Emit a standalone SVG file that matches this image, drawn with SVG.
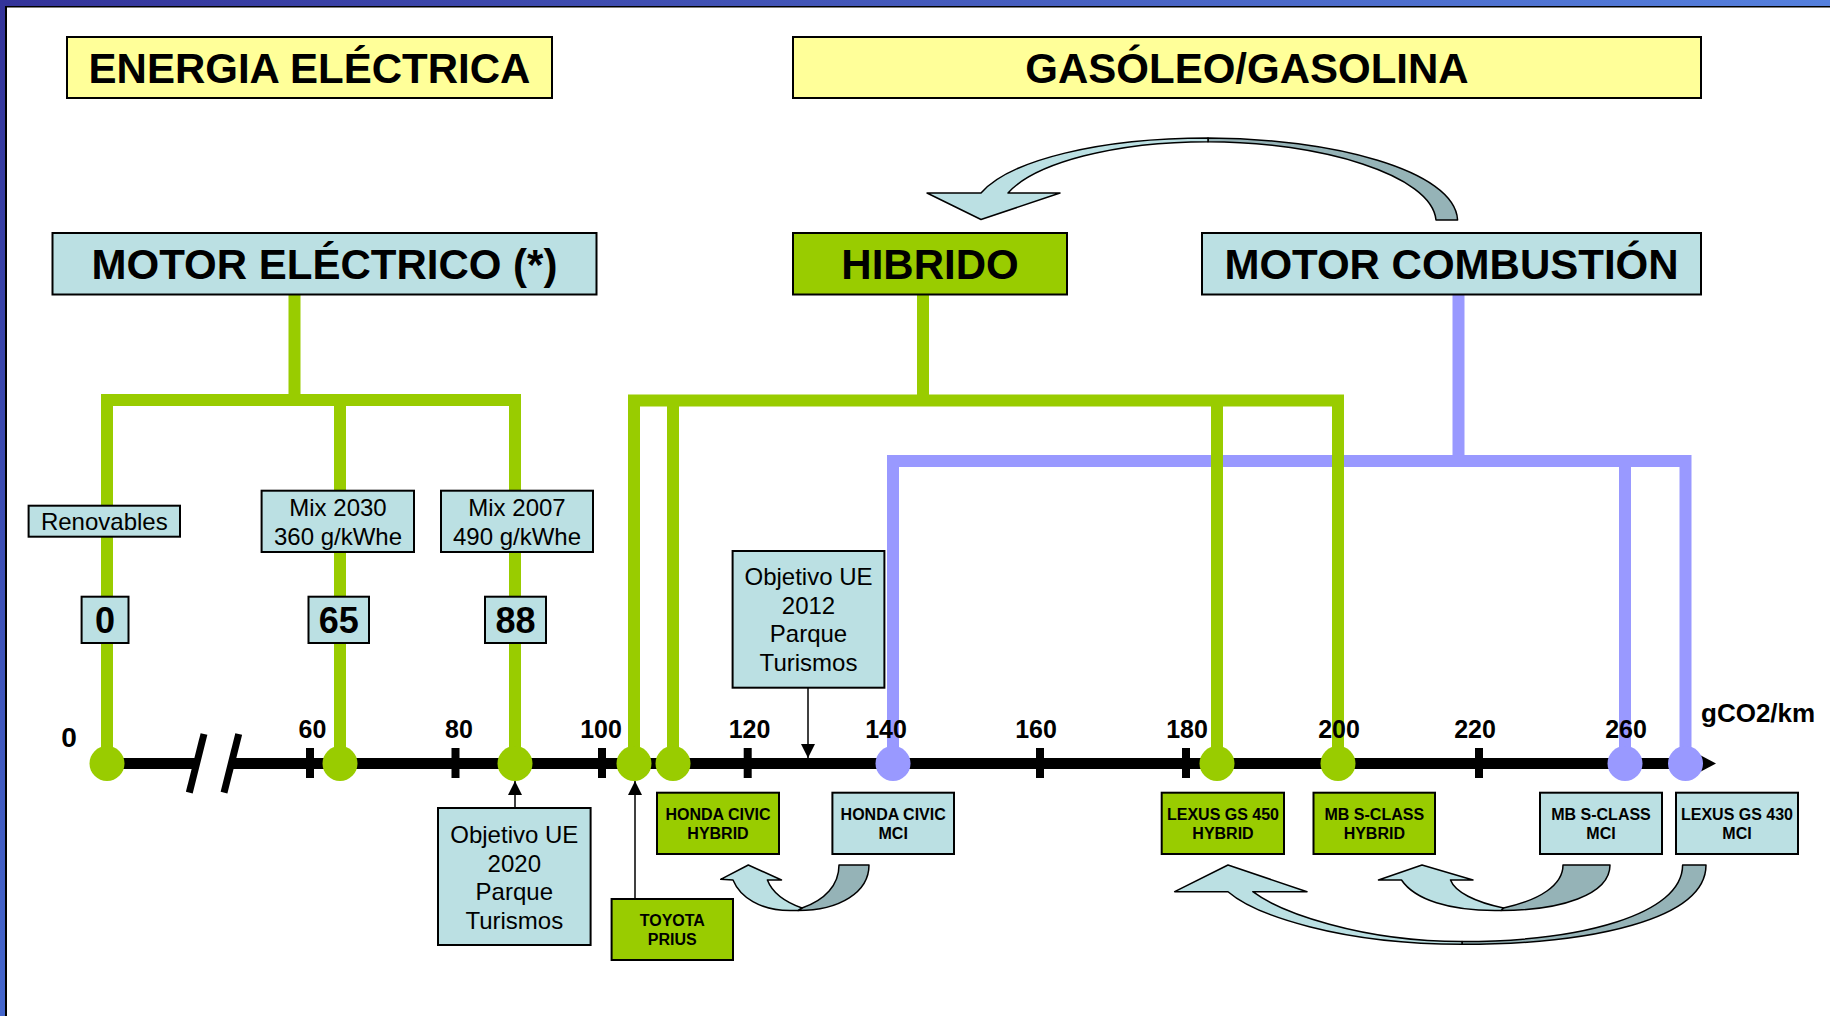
<svg xmlns="http://www.w3.org/2000/svg" width="1830" height="1016" viewBox="0 0 1830 1016">
<defs>
<linearGradient id="gTop" x1="0" y1="0" x2="1" y2="0"><stop offset="0" stop-color="#333399"/><stop offset="1" stop-color="#5580DD"/></linearGradient>
<linearGradient id="gLeft" x1="0" y1="0" x2="0" y2="1"><stop offset="0" stop-color="#333399"/><stop offset="1" stop-color="#4466CC"/></linearGradient>
<marker id="ah" viewBox="0 0 10 10" refX="10" refY="5" markerWidth="14" markerHeight="14" markerUnits="userSpaceOnUse" orient="auto"><path d="M0,0 L10,5 L0,10 Z" fill="#000"/></marker>
</defs>
<style>
.title{font-family:"Liberation Sans",Arial,sans-serif;font-weight:bold;font-size:42px;text-anchor:middle;fill:#000}
.yel{fill:#FFFF99;stroke:#000;stroke-width:2}
.cyan{fill:#BBE0E3;stroke:#000;stroke-width:2}
.grn{fill:#99CC00;stroke:#000;stroke-width:2}
.lbl{font-family:"Liberation Sans",Arial,sans-serif;font-size:24px;text-anchor:middle;fill:#000}
.val{font-family:"Liberation Sans",Arial,sans-serif;font-weight:bold;font-size:36px;text-anchor:middle;fill:#000}
.car{font-family:"Liberation Sans",Arial,sans-serif;font-weight:bold;font-size:16px;text-anchor:middle;fill:#000}
.ax{font-family:"Liberation Sans",Arial,sans-serif;font-weight:bold;font-size:25px;text-anchor:middle;fill:#000}
.gl{fill:none;stroke:#99CC00;stroke-width:12}
.pl{fill:none;stroke:#9999FF;stroke-width:12}
.cg{fill:#99CC00}
.cp{fill:#9999FF}
.tick{fill:#000}
.thin{stroke:#000;stroke-width:1.5;fill:none}
.arL{fill:#BBE0E3;stroke:#000;stroke-width:1.5;stroke-linejoin:round}
.arD{fill:#95B3B7;stroke:#000;stroke-width:1.5;stroke-linejoin:round}
</style>
<rect x="0" y="0" width="1830" height="1016" fill="#fff"/>
<rect x="0" y="0" width="1830" height="6" fill="url(#gTop)"/>
<rect x="0" y="0" width="5" height="1016" fill="url(#gLeft)"/>
<rect x="5" y="6" width="1825" height="1.5" fill="#000"/>
<rect x="5" y="6" width="2" height="1010" fill="#000"/>

<g id="connectors">
<path class="pl" d="M893,763 V461 H1685.5 V763"/>
<path class="pl" d="M1625,461 V763"/>
<path class="pl" d="M1458.5,295 V461"/>
<path class="gl" d="M107,763 V400 H515 V763"/>
<path class="gl" d="M340,400 V763"/>
<path class="gl" d="M294.5,295 V400"/>
<path class="gl" d="M634,763 V400.5 H1338 V763"/>
<path class="gl" d="M673,400.5 V763"/>
<path class="gl" d="M1217,400.5 V763"/>
<path class="gl" d="M923,295 V400.5"/>
<line class="thin" x1="515" y1="808" x2="515" y2="781" marker-end="url(#ah)"/>
<line class="thin" x1="635" y1="899" x2="635" y2="781" marker-end="url(#ah)"/>
<line class="thin" x1="808" y1="688" x2="808" y2="758" marker-end="url(#ah)"/>
<path class="arD" d="M1208,138 C1330,138 1455,170 1457.6,220 L1436,220 C1432,175 1320,141.7 1208,141.7 Z"/>
<path class="arL" d="M1208,141.7 C1115,141.7 1035,163 1008,193 L1060,193 L981,219.5 L927,193 L981,193 C1010,160 1100,138 1208,138 Z"/>
<path class="arD" d="M869,865 C869,892 840,910.5 798,910.5 L802,908 C825,900 839,885 839,865 Z"/>
<path class="arL" d="M802,908 C785,902 772,892 767.4,880 L781.5,880 L748.3,865 L720.7,879.3 L733,880 C740,897 760,910.5 790,910.5 L798,910.5 Z"/>
<path class="arD" d="M1610,865 C1610,895 1560,910.5 1501,910.5 L1503.5,908 C1540,900 1563,885 1563,865 Z"/>
<path class="arL" d="M1503.5,908 C1475,902 1455,892 1450.5,880 L1473,880 L1422,865 L1378.5,880 L1401.5,880 C1415,900 1450,910.5 1495,910.5 L1501,910.5 Z"/>
<path class="arD" d="M1706,865 C1706,920 1590,944.3 1462,944.3 L1462,941.5 C1580,941.5 1682.6,915 1682.6,865 Z"/>
<path class="arL" d="M1462,941.5 C1360,941.5 1280,912 1252.8,891.7 L1307,891.7 L1228,865 L1174.7,891.7 L1228,891.7 C1255,915 1340,944.3 1462,944.3 Z"/>
</g>

<g id="axis">
<line x1="107" y1="763.5" x2="196" y2="763.5" stroke="#000" stroke-width="11"/>
<line x1="231" y1="763.5" x2="1702" y2="763.5" stroke="#000" stroke-width="11"/>
<path d="M1700,755 L1716,763.5 L1700,772 Z" fill="#000"/>
<line x1="189.3" y1="792.7" x2="204" y2="734" stroke="#000" stroke-width="7"/>
<line x1="224" y1="792.7" x2="238.7" y2="734" stroke="#000" stroke-width="7"/>
<rect class="tick" x="306" y="748" width="8" height="30"/>
<rect class="tick" x="451.5" y="748" width="8" height="30"/>
<rect class="tick" x="598" y="748" width="8" height="30"/>
<rect class="tick" x="743.7" y="748" width="8" height="30"/>
<rect class="tick" x="1036" y="748" width="8" height="30"/>
<rect class="tick" x="1182" y="748" width="8" height="30"/>
<rect class="tick" x="1475" y="748" width="8" height="30"/>
<text x="69" y="747" font-family="Liberation Sans, Arial, sans-serif" font-weight="bold" font-size="28" text-anchor="middle">0</text>
<text class="ax" x="312.5" y="738">60</text>
<text class="ax" x="459" y="738">80</text>
<text class="ax" x="601" y="738">100</text>
<text class="ax" x="749.5" y="738">120</text>
<text class="ax" x="886" y="738">140</text>
<text class="ax" x="1036" y="738">160</text>
<text class="ax" x="1187" y="738">180</text>
<text class="ax" x="1339" y="738">200</text>
<text class="ax" x="1475" y="738">220</text>
<text class="ax" x="1626" y="738">260</text>
<text x="1701" y="722" font-family="Liberation Sans, Arial, sans-serif" font-weight="bold" font-size="26">gCO2/km</text>
<circle class="cg" cx="107" cy="763.5" r="17.5"/>
<circle class="cg" cx="340" cy="763.5" r="17.5"/>
<circle class="cg" cx="515" cy="763.5" r="17.5"/>
<circle class="cg" cx="634" cy="763.5" r="17.5"/>
<circle class="cg" cx="673" cy="763.5" r="17.5"/>
<circle class="cp" cx="893" cy="763.5" r="17.5"/>
<circle class="cg" cx="1217" cy="763.5" r="17.5"/>
<circle class="cg" cx="1338" cy="763.5" r="17.5"/>
<circle class="cp" cx="1625" cy="763.5" r="17.5"/>
<circle class="cp" cx="1685.5" cy="763.5" r="17.5"/>
</g>

<g id="energia-electrica"><rect class="yel" x="67" y="37" width="485" height="61"/><text class="title" x="309.5" y="83">ENERGIA ELÉCTRICA</text></g>
<g id="gasoleo-gasolina"><rect class="yel" x="793" y="37" width="908" height="61"/><text class="title" x="1247" y="83">GASÓLEO/GASOLINA</text></g>
<g id="motor-electrico"><rect class="cyan" x="52.5" y="233" width="544" height="61.5"/><text class="title" x="324.5" y="279">MOTOR ELÉCTRICO (*)</text></g>
<g id="hibrido"><rect class="grn" x="793" y="233" width="274" height="61.5"/><text class="title" x="930" y="279">HIBRIDO</text></g>
<g id="motor-combustion"><rect class="cyan" x="1202" y="233" width="499" height="61.5"/><text class="title" x="1451.5" y="279">MOTOR COMBUSTIÓN</text></g>

<g id="renovables"><rect class="cyan" x="28.6" y="505.7" width="151.4" height="31"/><text class="lbl" x="104.3" y="530">Renovables</text></g>
<g id="mix2030"><rect class="cyan" x="261.6" y="490.7" width="152.4" height="61.3"/><text class="lbl" x="338" y="516">Mix 2030</text><text class="lbl" x="338" y="545">360 g/kWhe</text></g>
<g id="mix2007"><rect class="cyan" x="441" y="490.7" width="152" height="61.3"/><text class="lbl" x="517" y="516">Mix 2007</text><text class="lbl" x="517" y="545">490 g/kWhe</text></g>
<g id="val0"><rect class="cyan" x="81.6" y="596.7" width="46.9" height="46.3"/><text class="val" x="105" y="633">0</text></g>
<g id="val65"><rect class="cyan" x="308.5" y="596.7" width="60.5" height="46.3"/><text class="val" x="338.7" y="633">65</text></g>
<g id="val88"><rect class="cyan" x="485" y="596.7" width="61" height="46.3"/><text class="val" x="515.5" y="633">88</text></g>

<g id="objetivo2012"><rect class="cyan" x="732.6" y="551" width="151.8" height="136.7"/><text class="lbl" x="808.5" y="585">Objetivo UE</text><text class="lbl" x="808.5" y="613.5">2012</text><text class="lbl" x="808.5" y="642">Parque</text><text class="lbl" x="808.5" y="670.5">Turismos</text></g>
<g id="objetivo2020"><rect class="cyan" x="438" y="808" width="152.6" height="137"/><text class="lbl" x="514.3" y="843">Objetivo UE</text><text class="lbl" x="514.3" y="871.5">2020</text><text class="lbl" x="514.3" y="900">Parque</text><text class="lbl" x="514.3" y="928.5">Turismos</text></g>

<g id="toyota-prius"><rect class="grn" x="611.6" y="899" width="121.4" height="61" stroke-width="1.5"/><text class="car" x="672.3" y="925.7">TOYOTA</text><text class="car" x="672.3" y="945">PRIUS</text></g>
<g id="honda-hybrid"><rect class="grn" x="657" y="792.7" width="122" height="61.3" stroke-width="1.5"/><text class="car" x="718" y="820">HONDA CIVIC</text><text class="car" x="718" y="839">HYBRID</text></g>
<g id="honda-mci"><rect class="cyan" x="832.4" y="792.7" width="121.6" height="61.3" stroke-width="1.5"/><text class="car" x="893.2" y="820">HONDA CIVIC</text><text class="car" x="893.2" y="839">MCI</text></g>
<g id="lexus450-hybrid"><rect class="grn" x="1161.7" y="792.7" width="122.3" height="61.3" stroke-width="1.5"/><text class="car" x="1223" y="820">LEXUS GS 450</text><text class="car" x="1223" y="839">HYBRID</text></g>
<g id="mbs-hybrid"><rect class="grn" x="1313.5" y="792.7" width="121.5" height="61.3" stroke-width="1.5"/><text class="car" x="1374.3" y="820">MB S-CLASS</text><text class="car" x="1374.3" y="839">HYBRID</text></g>
<g id="mbs-mci"><rect class="cyan" x="1540" y="792.7" width="122" height="61.3" stroke-width="1.5"/><text class="car" x="1601" y="820">MB S-CLASS</text><text class="car" x="1601" y="839">MCI</text></g>
<g id="lexus430-mci"><rect class="cyan" x="1676" y="792.7" width="122" height="61.3" stroke-width="1.5"/><text class="car" x="1737" y="820">LEXUS GS 430</text><text class="car" x="1737" y="839">MCI</text></g>
</svg>
